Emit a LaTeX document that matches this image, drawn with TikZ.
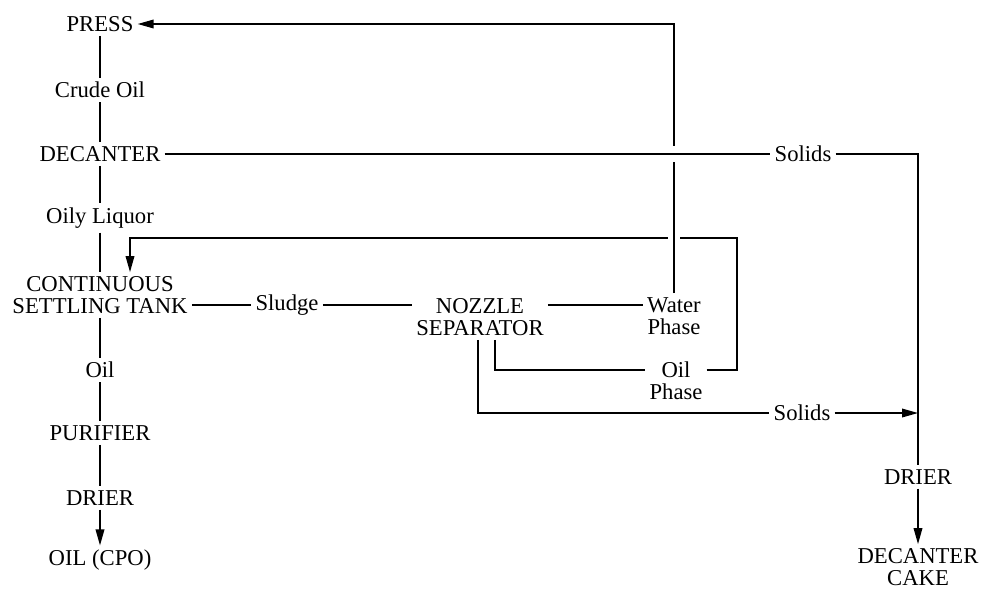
\documentclass[tikz,border=0pt]{standalone}
\usepackage{fontspec}
\setmainfont{Liberation Serif}
\usepackage{tikz}
\usetikzlibrary{arrows.meta,calc}

\begin{document}
\begin{tikzpicture}[x=0.75pt,y=-0.75pt,
    lbl/.style={inner sep=3pt, align=center, font=\fontsize{17}{16.5}\selectfont},
    flow/.style={line width=1pt},
    tip/.style={-{Triangle[length=12pt,width=6.5pt]}},
    cross/.style={preaction={draw,white,line width=#1}},
    cross/.default=9pt]
  \useasboundingbox (0,0) rectangle (990,590);

  \node[lbl] (press)    at (100,24)  {PRESS};
  \node[lbl] (crude)    at (100,90)  {Crude Oil};
  \node[lbl] (decanter) at (100,154) {DECANTER};
  \node[lbl] (oily)     at (100,218) {Oily Liquor};
  \node[lbl] (tank)     at (100,295) {CONTINUOUS\\SETTLING TANK};
  \node[lbl] (oil)      at (100,370) {Oil};
  \node[lbl] (purifier) at (100,433) {PURIFIER};
  \node[lbl] (drier)    at (100,498) {DRIER};
  \node[lbl] (cpo)      at (100,560) {OIL (CPO)};
  \node[lbl] (sludge)   at (287,305) {Sludge};
  \node[lbl] (nozzle)   at (480,317) {NOZZLE\\SEPARATOR};
  \node[lbl] (water)    at (674,316) {Water\\Phase};
  \node[lbl] (oilph)    at (676,381) {Oil\\Phase};
  \node[lbl] (solidsA)  at (803,154) {Solids};
  \node[lbl] (solidsB)  at (802,413) {Solids};
  \node[lbl] (drier2)   at (918,477) {DRIER};
  \node[lbl] (cake)     at (918,567) {DECANTER\\CAKE};

  \coordinate (oilrow)   at ($(oilph.center)+(0,-11)$);
  \coordinate (oilturn)  at (737,238);
  \coordinate (oildrop)  at (130,238);
  \coordinate (waterturn) at (water.north |- press.east);
  \coordinate (solidsturn) at (918,154);

  \foreach \a/\b in {press/crude, crude/decanter, decanter/oily, oily/tank,
                     tank/oil, oil/purifier, purifier/drier}
    \draw[flow] (\a) -- (\b);
  \draw[flow,tip] (drier) -- (cpo);

  \draw[flow] (tank.east |- sludge) -- (sludge.west);
  \draw[flow] (sludge.east) -- (sludge -| nozzle.west);
  \draw[flow] (nozzle.east |- sludge) -- (water.west |- sludge);

  \draw[flow] ($(nozzle.south)+(15,0)$) |- (oilph.west |- oilrow);
  \draw[flow,tip] (oilph.east |- oilrow) -| (oilturn) -- (oildrop) -- (oildrop |- tank.north);
  \draw[flow,tip,cross] (water.north) -- (waterturn) -- (press.east);
  \draw[flow,cross=12pt] (decanter.east) -- (solidsA.west |- decanter.east);
  \draw[flow] (solidsA.east) -- (solidsturn) -- (drier2.north);

  \draw[flow] ($(nozzle.south)+(-2,0)$) |- (solidsB.west);
  \draw[flow,tip] (solidsB.east) -- (solidsB -| drier2.north);
  \draw[flow,tip] (drier2.south) -- (drier2.south |- cake.north);
\end{tikzpicture}
\end{document}
